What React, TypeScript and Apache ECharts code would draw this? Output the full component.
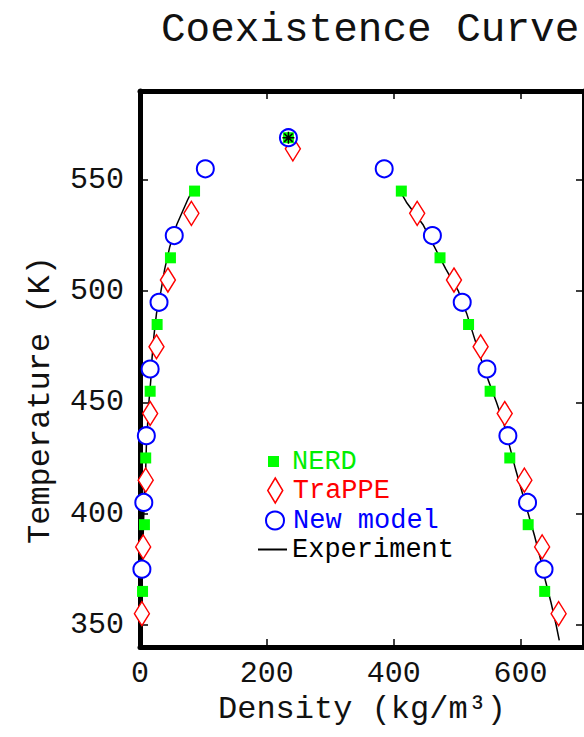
import React, { useEffect, useRef } from "react";
import * as echarts from "echarts";

// ---- data (density kg/m^3 vs temperature K) ----
const xTicks = [0, 200, 400, 600];
const yTicks = [350, 400, 450, 500, 550];

const nerdT = [545, 515, 485, 455, 425, 395, 365];
const nerdVapor = [86, 48, 27, 16, 9, 7, 4];
const nerdLiquid = [412, 473, 518, 552, 583, 612, 638];
const nerdCrit = [234, 569];

const trappeT = [535, 505, 475, 445, 415, 385, 355];
const trappeVapor = [81, 44, 26, 16, 9, 5, 3];
const trappeLiquid = [437, 495, 537, 575, 606, 634, 660];
const trappeCrit = [241, 564];

const newT = [555, 525, 495, 465, 435, 405, 375];
const newVapor = [103, 54, 30, 16, 10, 6, 3];
const newLiquid = [385, 461, 508, 547, 580, 611, 637];
const newCrit = [234, 569];

const expVapT = [342, 350, 360, 370, 380, 390, 400, 410, 420, 430, 440, 450, 460, 470, 480, 490, 500, 510, 520, 530, 541, 545];
const expVapRho = [2, 2, 3, 3, 4, 5, 6, 7, 9, 10, 12, 14, 17, 19, 22, 26, 33, 39, 47, 58, 75, 82];
const expLiqT = [545, 540, 530, 520, 510, 500, 490, 480, 470, 460, 450, 440, 430, 420, 410, 400, 390, 380, 370, 360, 350, 343];
const expLiqRho = [410, 420, 446, 464, 482, 502, 515, 526, 537, 549, 562, 574, 583, 592, 602, 612, 622, 631, 639, 648, 656, 661];
const expCrit = [234, 569];

const FONT = "Liberation Mono";
const TXT = "#111";

function both(T: number[], vap: number[], liq: number[], crit: number[]) {
  const pts: number[][] = [];
  T.forEach((t, i) => pts.push([vap[i], t]));
  T.forEach((t, i) => pts.push([liq[i], t]));
  pts.push(crit);
  return pts;
}

export default function App() {
  const ref = useRef<HTMLDivElement>(null);
  useEffect(() => {
    if (!ref.current) return;
    const chart = echarts.init(ref.current, undefined, { renderer: "svg" });
    const axisLine = { show: true, onZero: false, lineStyle: { color: "#000", width: 5 } };
    const tick = { show: true, inside: true, length: 8, lineStyle: { color: "#000", width: 1.5 } };
    const mkLegend = (
      name: string,
      left: number,
      top: number,
      icon: string,
      w: number,
      h: number,
      itemStyle: any,
      color: string
    ) => ({
      data: [
        {
          name,
          icon,
          itemStyle,
          textStyle: {
            fontFamily: FONT,
            fontSize: 27,
            lineHeight: 26,
            color,
            padding: [0, 0, 0, 292 - (left + w + 5)],
          },
        },
      ],
      left,
      top,
      padding: 0,
      itemWidth: w,
      itemHeight: h,
      itemGap: 0,
      selectedMode: false,
      orient: "vertical",
    });
    chart.setOption({
      animation: false,
      backgroundColor: "#fff",
      title: {
        text: "Coexistence Curve",
        left: 161,
        top: 9,
        padding: 0,
        textStyle: { fontFamily: FONT, fontSize: 41, fontWeight: "normal", color: TXT },
      },
      grid: { left: 140, right: -10, top: 91, bottom: 90, containLabel: false },
      xAxis: [
        {
          type: "value",
          min: 0,
          max: 700,
          interval: 200,
          position: "bottom",
          axisLine,
          axisTick: { ...tick, customValues: xTicks },
          axisLabel: { customValues: xTicks, margin: 12, fontFamily: FONT, fontSize: 30, color: TXT },
          splitLine: { show: false },
          name: "Density (kg/m³)",
          nameLocation: "middle",
          nameGap: 42,
          nameTextStyle: { fontFamily: FONT, fontSize: 32, color: TXT },
        },
        {
          type: "value",
          min: 0,
          max: 700,
          interval: 200,
          position: "top",
          axisLine,
          axisTick: { ...tick, customValues: xTicks },
          axisLabel: { show: false },
          splitLine: { show: false },
        },
      ],
      yAxis: [
        {
          type: "value",
          min: 340,
          max: 590,
          position: "left",
          axisLine,
          axisTick: { ...tick, customValues: yTicks },
          axisLabel: { customValues: yTicks, margin: 16, fontFamily: FONT, fontSize: 30, color: TXT },
          splitLine: { show: false },
          name: "Temperature (K)",
          nameLocation: "middle",
          nameGap: 84,
          nameTextStyle: { fontFamily: FONT, fontSize: 32, color: TXT, padding: [0, 62, 0, 0] },
        },
        {
          type: "value",
          min: 340,
          max: 590,
          position: "right",
          axisLine,
          axisTick: { ...tick, customValues: yTicks },
          axisLabel: { show: false },
          splitLine: { show: false },
        },
      ],
      legend: [
        mkLegend("NERD", 268, 448, "path://M0,0H10V10H0Z", 11, 11, { color: "#00ff00", borderWidth: 0 }, "#00ee00"),
        mkLegend("TraPPE", 267, 477, "path://M15,0L30,25L15,50L0,25Z", 15, 25, { color: "#fff", borderColor: "#ff0000", borderWidth: 1.5 }, "#ff0000"),
        mkLegend("New model", 265, 507, "circle", 18, 18, { color: "#fff", borderColor: "#0000ff", borderWidth: 2 }, "#0000ff"),
        mkLegend("Experiment", 258, 536, "path://M0,0H29V2H0Z", 29, 2, { color: "#000", borderWidth: 0 }, "#000"),
      ],
      series: [
        {
          name: "Experiment",
          type: "line",
          showSymbol: false,
          data: expVapT.map((t, i) => [expVapRho[i], t]),
          lineStyle: { color: "#000", width: 1.5 },
          itemStyle: { color: "#000" },
          z: 2,
        },
        {
          name: "Experiment",
          type: "line",
          showSymbol: false,
          data: expLiqT.map((t, i) => [expLiqRho[i], t]),
          lineStyle: { color: "#000", width: 1.5 },
          itemStyle: { color: "#000" },
          z: 2,
        },
        {
          name: "TraPPE",
          type: "scatter",
          symbol: "diamond",
          symbolSize: [15, 24],
          data: both(trappeT, trappeVapor, trappeLiquid, trappeCrit),
          itemStyle: { color: "#fff", borderColor: "#ff0000", borderWidth: 1.5, opacity: 1 },
          z: 3,
        },
        {
          name: "New model",
          type: "scatter",
          symbol: "circle",
          symbolSize: 17,
          data: both(newT, newVapor, newLiquid, newCrit),
          itemStyle: { color: "#fff", borderColor: "#0000ff", borderWidth: 2, opacity: 1 },
          z: 4,
        },
        {
          name: "NERD",
          type: "scatter",
          symbol: "rect",
          symbolSize: 11,
          data: both(nerdT, nerdVapor, nerdLiquid, nerdCrit),
          itemStyle: { color: "#00ff00", opacity: 1 },
          z: 5,
        },
        {
          name: "Experiment",
          type: "scatter",
          symbol: "path://M6,0V12M0,6H12M1.8,1.8L10.2,10.2M10.2,1.8L1.8,10.2",
          symbolSize: 12,
          data: [expCrit],
          itemStyle: { color: "rgba(0,0,0,0)", borderColor: "#000", borderWidth: 1.5, opacity: 1 },
          z: 6,
        },
      ],
    });
    return () => chart.dispose();
  }, []);
  return (
    <div
      ref={ref}
      style={{ position: "absolute", left: 0, top: 0, width: 584, height: 737, overflow: "hidden" }}
    />
  );
}
